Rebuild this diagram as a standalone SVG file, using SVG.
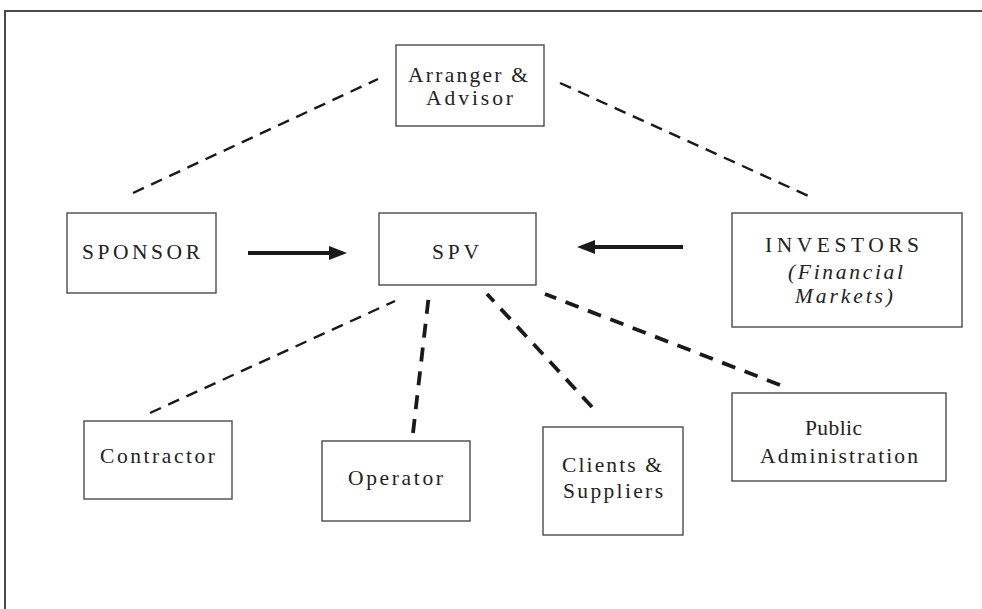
<svg xmlns="http://www.w3.org/2000/svg" width="982" height="609" viewBox="0 0 982 609">
  <style>
    .frame { fill: none; stroke: #4a4a4a; stroke-width: 2; }
    .box { fill: #ffffff; stroke: #4a4a4a; stroke-width: 1.4; }
    .lbl { font-family: "Liberation Serif", "Times New Roman", serif; font-size: 21.5px; fill: #222222; }
    .it { font-style: italic; }
    .thin { fill: none; stroke: #1a1a1a; stroke-width: 2.4; stroke-dasharray: 12 8; }
    .thick { fill: none; stroke: #1a1a1a; stroke-width: 3.8; stroke-dasharray: 14 10; }
    .arrow { fill: none; stroke: #1a1a1a; stroke-width: 4; }
  </style>
  <defs>
    <marker id="head" markerUnits="userSpaceOnUse" markerWidth="18" markerHeight="14" refX="0" refY="7" orient="auto">
      <path d="M0,0 L18,7 L0,14 z" fill="#1a1a1a"/>
    </marker>
  </defs>

  <rect class="frame" x="5" y="11" width="1000" height="700"/>

  <g id="connectors">
    <path class="thin" d="M133,193 L378,79"/>
    <path class="thin" d="M560,83 L813,198"/>
    <path class="arrow" d="M248,253 L329,253" marker-end="url(#head)"/>
    <path class="arrow" d="M683,247 L595,247" marker-end="url(#head)"/>
    <path class="thin" d="M150,413 L395,301"/>
    <path class="thick" d="M413,433 L429,294"/>
    <path class="thick" d="M592,407 L487,294"/>
    <path class="thick" d="M780,385 L545,294"/>
  </g>

  <g id="arranger">
    <rect class="box" x="396" y="45" width="148" height="81"/>
    <text class="lbl" x="408" y="82" textLength="120" lengthAdjust="spacing">Arranger &amp;</text>
    <text class="lbl" x="426" y="105" textLength="87" lengthAdjust="spacing">Advisor</text>
  </g>

  <g id="sponsor">
    <rect class="box" x="67" y="213" width="149" height="80"/>
    <text class="lbl" x="82" y="259" textLength="118" lengthAdjust="spacing">SPONSOR</text>
  </g>

  <g id="spv">
    <rect class="box" x="379" y="213" width="157" height="72"/>
    <text class="lbl" x="432" y="259" textLength="47" lengthAdjust="spacing">SPV</text>
  </g>

  <g id="investors">
    <rect class="box" x="732" y="213" width="230" height="114"/>
    <text class="lbl" x="765" y="252" textLength="154" lengthAdjust="spacing">INVESTORS</text>
    <text class="lbl it" x="788" y="279" textLength="115" lengthAdjust="spacing">(Financial</text>
    <text class="lbl it" x="795" y="303" textLength="98" lengthAdjust="spacing">Markets)</text>
  </g>

  <g id="contractor">
    <rect class="box" x="84" y="421" width="148" height="78"/>
    <text class="lbl" x="100" y="463" textLength="115" lengthAdjust="spacing">Contractor</text>
  </g>

  <g id="operator">
    <rect class="box" x="322" y="441" width="148" height="80"/>
    <text class="lbl" x="348" y="485" textLength="95" lengthAdjust="spacing">Operator</text>
  </g>

  <g id="clients">
    <rect class="box" x="543" y="427" width="140" height="108"/>
    <text class="lbl" x="562" y="472" textLength="100" lengthAdjust="spacing">Clients &amp;</text>
    <text class="lbl" x="563" y="498" textLength="100" lengthAdjust="spacing">Suppliers</text>
  </g>

  <g id="public-admin">
    <rect class="box" x="732" y="393" width="214" height="88"/>
    <text class="lbl" x="805" y="435" textLength="57" lengthAdjust="spacing">Public</text>
    <text class="lbl" x="760" y="463" textLength="158" lengthAdjust="spacing">Administration</text>
  </g>
</svg>
